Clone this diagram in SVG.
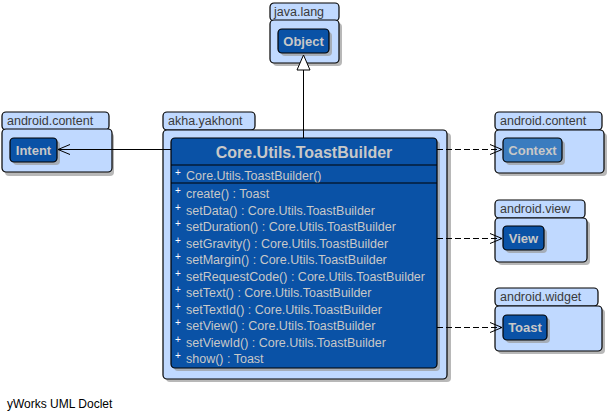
<svg xmlns="http://www.w3.org/2000/svg" width="610" height="420" viewBox="0 0 610 420">
<style>
.pkgtab,.pkgbody{fill:#c0d9ff;stroke:#000;stroke-width:1.2}
.shadow{fill:#9a9a9a;opacity:0.7}
.pkglbl{font-family:"Liberation Sans",Arial,sans-serif;font-size:12.5px;fill:#3a3a3a}
.node{fill:#0a52a6;stroke:#000;stroke-width:1.2}
.ext{fill:#3b7cbf;stroke:#000;stroke-width:1.2}
.nlbl{font-family:"Liberation Sans",Arial,sans-serif;font-size:13px;font-weight:bold;fill:#c8c8c8}
.ttl{font-family:"Liberation Sans",Arial,sans-serif;font-size:16px;font-weight:bold;fill:#c8c8c8}
.mem{font-family:"Liberation Sans",Arial,sans-serif;font-size:12.5px;fill:#c8c8c8}
.plus{font-family:"Liberation Sans",Arial,sans-serif;font-size:10px;fill:#fff}
.edge{fill:none;stroke:#000;stroke-width:1}
.dash{stroke-dasharray:6,3}
.foot{font-family:"Liberation Sans",Arial,sans-serif;font-size:12px;fill:#000}
</style>
<rect width="610" height="420" fill="#fff"/>

<g id="pkg-java-lang">
<rect class="shadow" x="273" y="23" width="69" height="43" rx="4"/>
<rect class="pkgtab" x="270" y="3" width="69" height="18" rx="4"/>
<rect class="pkgbody" x="270" y="20" width="69" height="43" rx="4"/>
<text class="pkglbl" x="274" y="16">java.lang</text>
</g>
<g id="node-Object">
<rect class="shadow" x="281" y="32" width="51" height="24" rx="4"/>
<rect class="node" x="278" y="29" width="51" height="24" rx="4"/>
<text class="nlbl" x="303.5" y="46" text-anchor="middle">Object</text>
</g>

<g id="pkg-android-content-left">
<rect class="shadow" x="5" y="133" width="109" height="43" rx="4"/>
<rect class="pkgtab" x="2" y="112" width="107" height="18" rx="4"/>
<rect class="pkgbody" x="2" y="129" width="110" height="43" rx="4"/>
<text class="pkglbl" x="7" y="125">android.content</text>
</g>
<g id="node-Intent">
<rect class="shadow" x="13" y="141" width="47" height="24" rx="4"/>
<rect class="node" x="10" y="138" width="47" height="24" rx="4"/>
<text class="nlbl" x="33.5" y="155" text-anchor="middle">Intent</text>
</g>

<g id="pkg-akha-yakhont">
<rect class="shadow" x="166" y="133" width="285" height="249" rx="4"/>
<rect class="pkgtab" x="163" y="112" width="92" height="18" rx="4"/>
<rect class="pkgbody" x="163" y="130" width="284" height="249" rx="4"/>
<text class="pkglbl" x="168" y="125">akha.yakhont</text>
</g>
<g id="node-ToastBuilder">
<rect class="shadow" x="174" y="141" width="266" height="230" rx="4"/>
<rect class="node" x="171" y="138" width="266" height="230" rx="4"/>
<text class="ttl" x="304" y="158" text-anchor="middle">Core.Utils.ToastBuilder</text>
<line x1="171" y1="165" x2="437" y2="165" stroke="#000" stroke-width="1"/>
<text class="plus" x="175" y="176">+</text>
<text class="mem" x="186" y="180">Core.Utils.ToastBuilder()</text>
<line x1="171" y1="183" x2="437" y2="183" stroke="#000" stroke-width="1"/>
<text class="plus" x="175" y="194">+</text><text class="mem" x="186" y="198">create() : Toast</text>
<text class="plus" x="175" y="211">+</text><text class="mem" x="186" y="215">setData() : Core.Utils.ToastBuilder</text>
<text class="plus" x="175" y="227">+</text><text class="mem" x="186" y="231">setDuration() : Core.Utils.ToastBuilder</text>
<text class="plus" x="175" y="244">+</text><text class="mem" x="186" y="248">setGravity() : Core.Utils.ToastBuilder</text>
<text class="plus" x="175" y="260">+</text><text class="mem" x="186" y="264">setMargin() : Core.Utils.ToastBuilder</text>
<text class="plus" x="175" y="277">+</text><text class="mem" x="186" y="281">setRequestCode() : Core.Utils.ToastBuilder</text>
<text class="plus" x="175" y="293">+</text><text class="mem" x="186" y="297">setText() : Core.Utils.ToastBuilder</text>
<text class="plus" x="175" y="310">+</text><text class="mem" x="186" y="314">setTextId() : Core.Utils.ToastBuilder</text>
<text class="plus" x="175" y="326">+</text><text class="mem" x="186" y="330">setView() : Core.Utils.ToastBuilder</text>
<text class="plus" x="175" y="343">+</text><text class="mem" x="186" y="347">setViewId() : Core.Utils.ToastBuilder</text>
<text class="plus" x="175" y="359">+</text><text class="mem" x="186" y="363">show() : Toast</text>
</g>

<g id="pkg-android-content-right">
<rect class="shadow" x="498" y="133" width="109" height="43" rx="4"/>
<rect class="pkgtab" x="495" y="112" width="107" height="18" rx="4"/>
<rect class="pkgbody" x="495" y="130" width="109" height="43" rx="4"/>
<text class="pkglbl" x="500" y="125">android.content</text>
</g>
<g id="node-Context">
<rect class="shadow" x="506" y="141" width="59" height="24" rx="4"/>
<rect class="ext" x="503" y="138" width="59" height="24" rx="4"/>
<text class="nlbl" x="532.5" y="155" text-anchor="middle">Context</text>
</g>

<g id="pkg-android-view">
<rect class="shadow" x="498" y="221" width="92" height="44" rx="4"/>
<rect class="pkgtab" x="495" y="200" width="90" height="18" rx="4"/>
<rect class="pkgbody" x="495" y="218" width="92" height="44" rx="4"/>
<text class="pkglbl" x="500" y="213">android.view</text>
</g>
<g id="node-View">
<rect class="shadow" x="506" y="229" width="41" height="24" rx="4"/>
<rect class="node" x="503" y="226" width="41" height="24" rx="4"/>
<text class="nlbl" x="523.5" y="243" text-anchor="middle">View</text>
</g>

<g id="pkg-android-widget">
<rect class="shadow" x="498" y="309" width="107" height="45" rx="4"/>
<rect class="pkgtab" x="495" y="288" width="103" height="18" rx="4"/>
<rect class="pkgbody" x="495" y="306" width="107" height="45" rx="4"/>
<text class="pkglbl" x="500" y="301">android.widget</text>
</g>
<g id="node-Toast">
<rect class="shadow" x="506" y="318" width="44" height="25" rx="4"/>
<rect class="node" x="503" y="315" width="44" height="25" rx="4"/>
<text class="nlbl" x="525" y="332" text-anchor="middle">Toast</text>
</g>

<g id="connectors">
<line class="edge" x1="303.5" y1="70" x2="303.5" y2="138"/>
<polygon points="303.5,55 297,70 310,70" fill="#fff" stroke="#000" stroke-width="1"/>
<line class="edge" x1="171" y1="149.5" x2="58" y2="149.5"/>
<polyline class="edge" points="70,144.5 58,149.5 70,154.5"/>
<line class="edge dash" x1="437" y1="149.5" x2="502" y2="149.5"/>
<polyline class="edge" points="490,144.5 502,149.5 490,154.5"/>
<line class="edge dash" x1="437" y1="238.5" x2="502" y2="238.5"/>
<polyline class="edge" points="490,233.5 502,238.5 490,243.5"/>
<line class="edge dash" x1="437" y1="327.5" x2="502" y2="327.5"/>
<polyline class="edge" points="490,322.5 502,327.5 490,332.5"/>
</g>

<text class="foot" x="7" y="408">yWorks UML Doclet</text>
</svg>
